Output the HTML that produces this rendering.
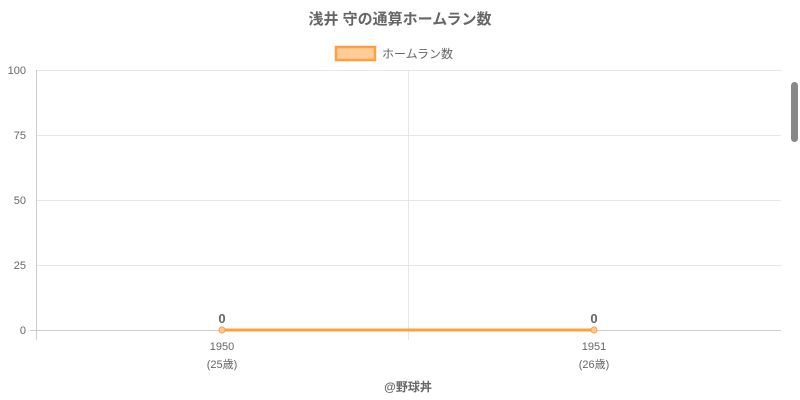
<!DOCTYPE html>
<html><head><meta charset="utf-8"><style>
html,body{margin:0;padding:0;background:#fff;width:800px;height:400px;overflow:hidden}
text{font-family:"Liberation Sans","Noto Sans CJK JP",sans-serif}
</style></head><body>
<svg width="800" height="400" viewBox="0 0 800 400">
<text x="400" y="24" text-anchor="middle" font-size="15" font-weight="bold" fill="#666">浅井 守の通算ホームラン数</text>
<rect x="336" y="47" width="39" height="13" fill="#ffcc99" stroke="#ff9f40" stroke-width="2.5"/>
<text x="382" y="58" font-size="12" fill="#666">ホームラン数</text>
<g stroke="#e6e6e6" stroke-width="1">
<line x1="36" y1="70.5" x2="781" y2="70.5"/>
<line x1="36" y1="135.5" x2="781" y2="135.5"/>
<line x1="36" y1="200.5" x2="781" y2="200.5"/>
<line x1="36" y1="265.5" x2="781" y2="265.5"/>
<line x1="408.5" y1="70" x2="408.5" y2="340"/>
</g>
<line x1="36.5" y1="70" x2="36.5" y2="340" stroke="#ccc"/>
<line x1="30" y1="330.5" x2="781" y2="330.5" stroke="#ccc"/>
<g font-size="11" fill="#666" text-anchor="end">
<text x="26" y="74">100</text><text x="26" y="139">75</text><text x="26" y="204">50</text><text x="26" y="269">25</text><text x="26" y="334">0</text>
</g>
<line x1="222" y1="330" x2="594" y2="330" stroke="#ff9f40" stroke-width="3"/>
<circle cx="222" cy="330" r="3" fill="#ffcc99" stroke="#ff9f40"/>
<circle cx="594" cy="330" r="3" fill="#ffcc99" stroke="#ff9f40"/>
<g font-size="13" font-weight="bold" fill="#666" text-anchor="middle">
<text x="222" y="323">0</text><text x="594" y="323">0</text>
</g>
<g font-size="11" fill="#666" text-anchor="middle">
<text x="222" y="350">1950</text><text x="222" y="368">(25歳)</text>
<text x="594" y="350">1951</text><text x="594" y="368">(26歳)</text>
</g>
<text x="408" y="391" text-anchor="middle" font-size="12" font-weight="bold" fill="#666">@野球丼</text>
<rect x="791" y="82" width="7" height="60" rx="3.5" fill="#888"/>
</svg>
</body></html>
